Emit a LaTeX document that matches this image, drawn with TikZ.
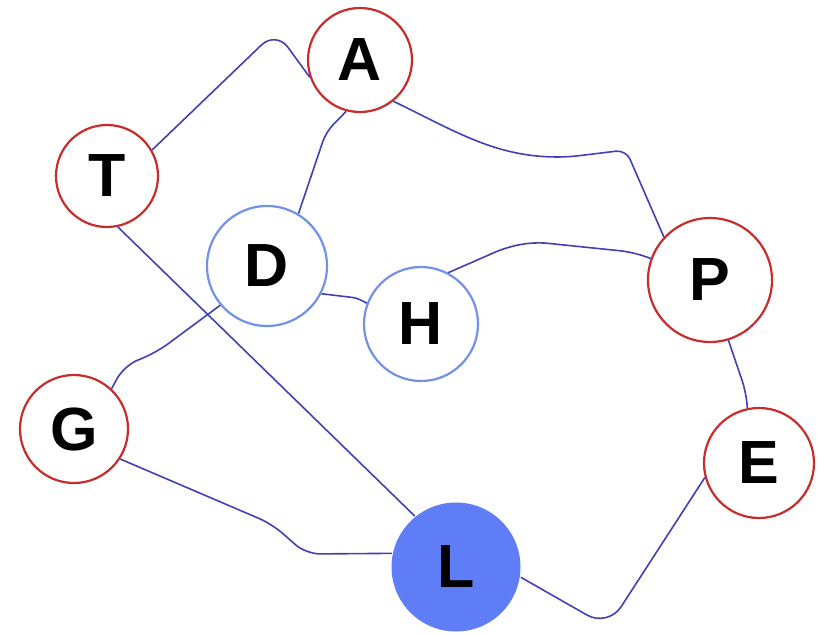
\documentclass[tikz,border=0pt]{standalone}
\usepackage{fontspec}
\setmainfont{Liberation Sans}
\definecolor{redring}{RGB}{200,45,45}
\definecolor{bluering}{RGB}{115,145,230}
\definecolor{lfill}{RGB}{96,125,248}
\definecolor{edgeblue}{RGB}{65,65,180}
\begin{document}
\begin{tikzpicture}[x=1pt,y=-1pt,
  vtx/.style={circle,inner sep=0pt,line width=2.2pt,font=\fontsize{61}{61}\selectfont\bfseries,fill=white},
  redv/.style={vtx,draw=redring},
  bluev/.style={vtx,draw=bluering},
  lv/.style={vtx,fill=lfill,draw=none},
  edge/.style={draw=edgeblue,line width=1.6pt,rounded corners=10pt}]
\useasboundingbox (0,0) rectangle (821,634);
\node[redv,minimum size=104pt] (A) at (360,60) {A};
\node[redv,minimum size=102pt] (T) at (107,176) {T};
\node[bluev,minimum size=120pt] (D) at (267,266) {D};
\node[bluev,minimum size=114pt] (H) at (421,324) {H};
\node[redv,minimum size=124pt] (P) at (710,280) {P};
\node[redv,minimum size=108pt] (G) at (74,429) {G};
\node[redv,minimum size=110pt] (E) at (759,463) {E};
\node[lv,minimum size=129pt] (L) at (456,567) {L};
\path[edge,rounded corners=20pt] (T.30) -- (276,31) -- (A.199);
\path[edge] (A.255) -- (326,132) -- (D.59);
\path[edge] (T.282) -- (L.129);
\path[edge,rounded corners=5pt] (D.333) -- (357,298) -- (H.159);
\path[edge,rounded corners=14pt] (D.220) -- (157,352) -- (124,366) -- (G.47);
\path[edge,rounded corners=14pt] (G.327) -- (272,524) -- (306,554) -- (L.168);
\path[edge] (A.309) to[out=-26,in=180] (568,157) -- (626,150) -- (P.137);
\path[edge,rounded corners=12pt] (H.62) -- (507,247) -- (535,242) -- (632,252) -- (P.160);
\path[edge,rounded corners=12pt] (P.287) -- (746,392) -- (E.102);
\path[edge,rounded corners=24pt] (L.351) -- (608,627) -- (E.195);
\end{tikzpicture}
\end{document}
